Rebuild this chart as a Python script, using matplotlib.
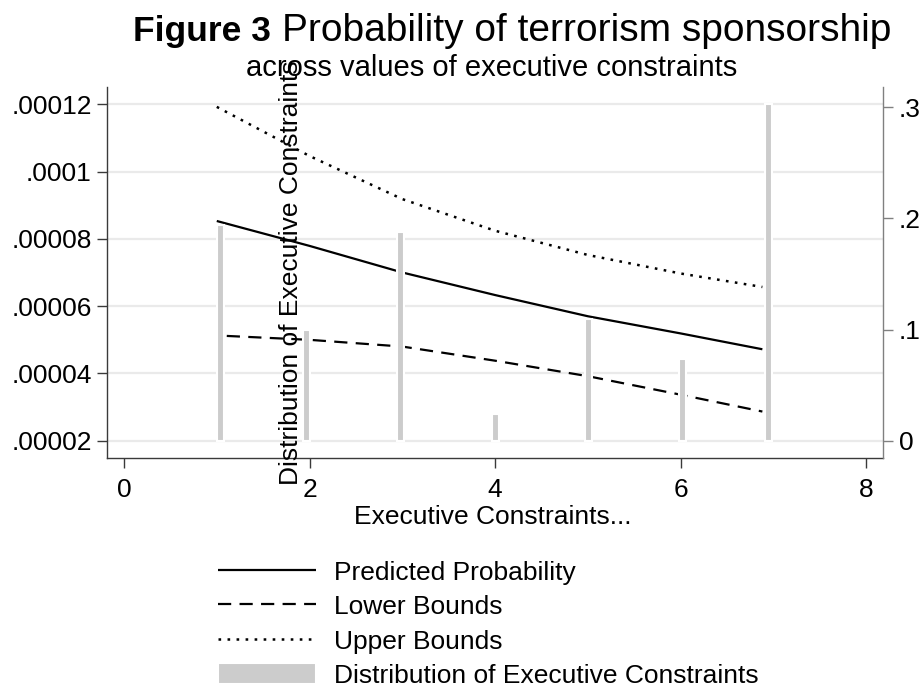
import matplotlib
matplotlib.use("Agg")
import matplotlib.pyplot as plt
from matplotlib.lines import Line2D

plt.rcParams['font.family'] = ['Liberation Sans', 'DejaVu Sans']
plt.rcParams['lines.scale_dashes'] = False

# ---- data ----
line_x = [1, 2, 3, 4, 5, 6, 6.88]
predicted = [8.53e-5, 7.79e-5, 7.00e-5, 6.33e-5, 5.70e-5, 5.19e-5, 4.72e-5]
lower = [5.13e-5, 5.00e-5, 4.80e-5, 4.38e-5, 3.92e-5, 3.37e-5, 2.87e-5]
upper = [1.192e-4, 1.046e-4, 9.18e-5, 8.24e-5, 7.52e-5, 6.97e-5, 6.57e-5]

bar_x = [1.044, 1.968, 2.985, 4.0, 5.006, 6.024, 6.944]
bar_share = [0.194, 0.100, 0.188, 0.0245, 0.110, 0.074, 0.303]

x_ticks = [0, 2, 4, 6, 8]
left_ticks = [0.00002, 0.00004, 0.00006, 0.00008, 0.0001, 0.00012]
left_tick_labels = [".00002", ".00004", ".00006", ".00008", ".0001", ".00012"]
right_ticks = [0, 0.1, 0.2, 0.3]
right_tick_labels = ["0", ".1", ".2", ".3"]

labels = ["Predicted Probability", "Lower Bounds", "Upper Bounds",
          "Distribution of Executive Constraints"]

# ---- figure ----
W, H = 924, 698
fig = plt.figure(figsize=(W / 100, H / 100), dpi=100)
fig.patch.set_facecolor('white')

def fx(px):
    return px / W

def fy(py):
    return 1 - py / H

ax = fig.add_axes([fx(107), fy(458), fx(883) - fx(107), fy(87) - fy(458)])
ax2 = ax.twinx()

FS = 19
spine_dark = '#3a3a3a'
spine_gray = '#808080'

lw = 1.6
dash = (9.5, 6.0)
dot = (1.9, 4.6)
l1, = ax.plot(line_x, predicted, color='black', lw=lw, solid_capstyle='butt')
ax.plot(line_x, lower, color='black', lw=lw, ls=(8.3, dash))
l3, = ax.plot(line_x, upper, color='black', lw=1.8, ls=(0, dot))
l2 = Line2D([], [], color='black', lw=lw, ls=(0, dash))

bars = ax2.bar(bar_x, bar_share, width=0.075, color='#cccccc', edgecolor='white',
               linewidth=1.5)

ax.set_xlim(-0.183, 8.18)
ax.set_ylim(0.0000149, 0.0001251)
ax2.set_ylim(-0.0153, 0.318)

ax.set_xticks(x_ticks)
ax.set_xticklabels([str(t) for t in x_ticks])
ax.set_yticks(left_ticks)
ax.set_yticklabels(left_tick_labels)
ax2.set_yticks(right_ticks)
ax2.set_yticklabels(right_tick_labels)

ax.yaxis.grid(True, color='#eaeaea', lw=1.6)
ax.set_axisbelow(True)

for a in (ax, ax2):
    a.spines['top'].set_visible(False)
    a.set_facecolor('none')
ax.set_zorder(1)
ax2.set_zorder(2)
ax.spines['right'].set_visible(False)
ax2.spines['left'].set_visible(False)
ax2.spines['bottom'].set_visible(False)
ax.spines['left'].set_color(spine_dark)
ax.spines['bottom'].set_color(spine_dark)
ax2.spines['right'].set_color(spine_gray)
for s in ('left', 'bottom'):
    ax.spines[s].set_linewidth(1.0)
ax2.spines['right'].set_linewidth(1.0)

ax.tick_params(axis='y', length=7.5, width=1.0, color=spine_dark, labelsize=FS, pad=3.5)
ax.tick_params(axis='x', length=7.5, width=1.0, color=spine_dark, labelsize=FS, pad=7)
ax2.tick_params(axis='y', length=7.5, width=1.0, color=spine_gray, labelsize=FS, pad=4)

fig.text(fx(493), fy(517), "Executive Constraints...", fontsize=FS, ha='center', va='center')
fig.text(fx(291), fy(273), "Distribution of Executive Constraints", fontsize=FS,
         rotation=90, ha='center', va='center')

# titles
fig.text(fx(271), fy(41), "Figure 3", fontsize=25.5, fontweight='bold', ha='right', va='baseline')
fig.text(fx(282), fy(41), "Probability of terrorism sponsorship", fontsize=28,
         ha='left', va='baseline')
fig.text(fx(492), fy(76), "across values of executive constraints", fontsize=21,
         ha='center', va='baseline')

fig.legend(handles=[l1, l2, l3, bars], labels=labels, loc='upper left',
           bbox_to_anchor=(fx(218), fy(560)), frameon=False, fontsize=FS,
           handlelength=3.7, handleheight=0.85, handletextpad=0.7,
           labelspacing=0.37, borderpad=0, borderaxespad=0)

fig.savefig("out.png", dpi=100, facecolor='white')
